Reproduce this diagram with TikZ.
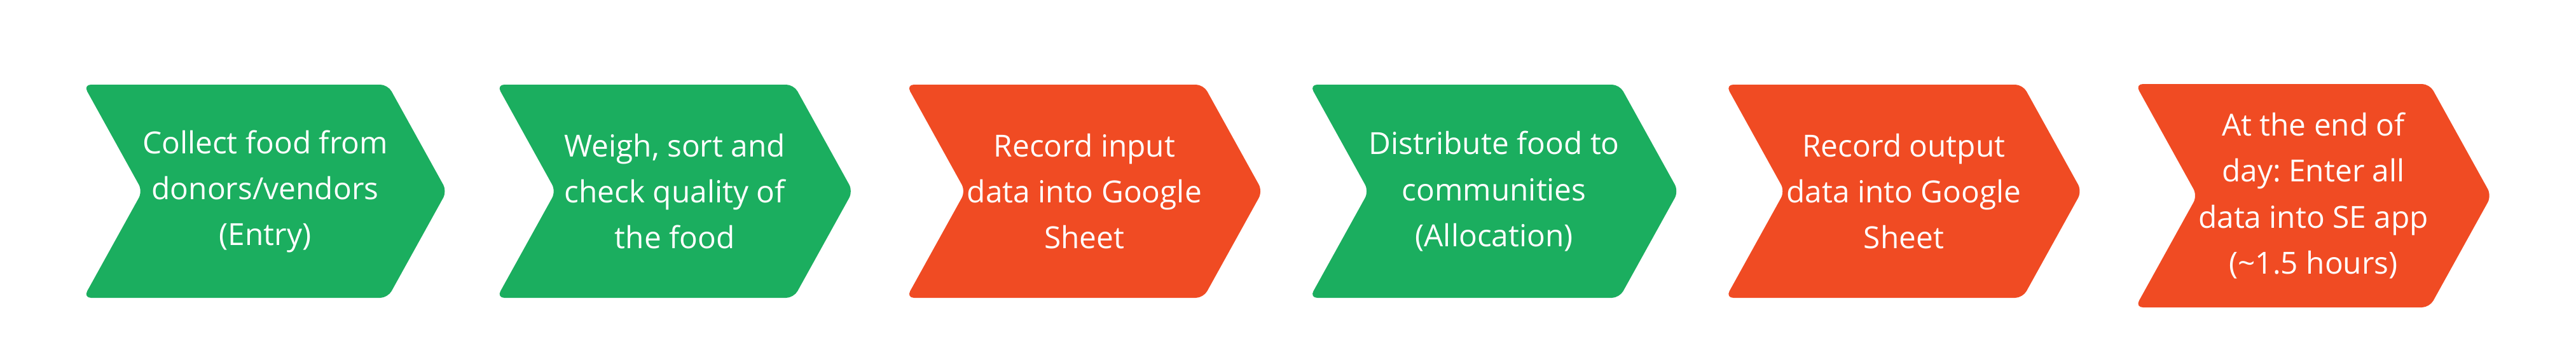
\documentclass[tikz,border=0pt]{standalone}
\usepackage{fontspec}
\setmainfont{Open Sans}
\usetikzlibrary{positioning,shapes.symbols}

\definecolor{stepgreen}{HTML}{1BAE5F}
\definecolor{stepred}{HTML}{F04B23}
\frenchspacing

\begin{document}
\begin{tikzpicture}[
        chevron/.style={signal, signal from=west, signal to=east,
          signal pointer angle=122, rounded corners=0.12cm,
          minimum width=5.60cm, minimum height=3.35cm, inner sep=0pt,
          align=center, text=white, font=\fontsize{13.6}{20.5}\selectfont},
        green step/.style={chevron, fill=stepgreen},
        red step/.style={chevron, fill=stepred},
        next/.style={xshift=6.442cm}]

  \useasboundingbox (0,0) rectangle (40.51,5.71);

  \node[green step] (collect) at (4.17,2.705) {Collect food from\\donors/vendors\\(Entry)};
  \node[green step] (weigh) at ([next]collect.center) {Weigh, sort and\\check quality of\\the food};
  \node[red step] (input) at ([next]weigh.center) {Record input\\data into Google\\Sheet};
  \node[green step] (distribute) at ([next]input.center) {Distribute food to\\communities\\(Allocation)};
  \node[red step] (output) at ([next]distribute.center) {Record output\\data into Google\\Sheet};
  \node[red step, minimum height=3.51cm] (enter) at ([next, yshift=-0.07cm]output.center)
        {At the end of\\day: Enter all\\data into SE app\\(\textasciitilde1.5 hours)};

\end{tikzpicture}
\end{document}
